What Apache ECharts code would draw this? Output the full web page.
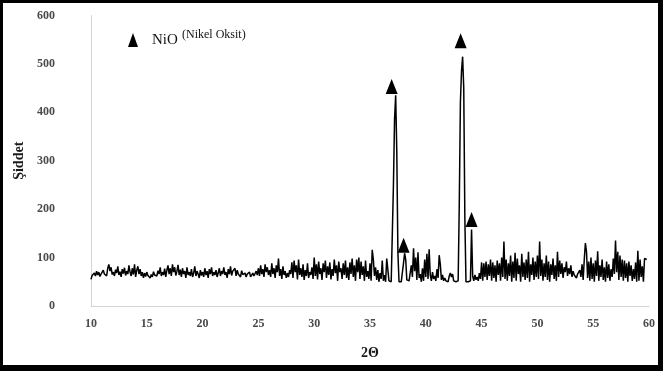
<!DOCTYPE html>
<html>
<head>
<meta charset="utf-8">
<script src="https://cdn.jsdelivr.net/npm/echarts@6/dist/echarts.min.js"></script>
<style>
  html, body { margin: 0; padding: 0; background: #000; }
  #frame { position: absolute; left: 0; top: 0; width: 663px; height: 371px; background: #000; }
  #chart { position: absolute; left: 3px; top: 3px; width: 655px; height: 362px; background: #fff; }
</style>
</head>
<body>
<div id="frame"><div id="chart"></div></div>
<script>
// XRD scan: 2-theta from 10.0 to 59.8 degrees in 0.1 degree steps
const SCAN_START = 10;
const SCAN_STEP = 0.1;

// Intensity (counts), 10.0 - 19.9
const int10to20 = [
  55, 63, 60, 68, 62, 72, 64, 70, 61, 66,
  63, 74, 66, 70, 62, 78, 86, 72, 80, 65,
  70, 62, 75, 68, 82, 64, 71, 60, 76, 67,
  79, 63, 72, 66, 84, 70, 62, 78, 65, 86,
  60, 74, 82, 66, 76, 62, 70, 58, 68, 61,
  70, 63, 67, 58, 65, 60, 71, 64, 68, 62,
  73, 66, 80, 62, 70, 64, 77, 60, 74, 84,
  66, 78, 62, 86, 70, 80, 63, 72, 85, 64,
  75, 60, 78, 66, 72, 58, 80, 64, 70, 62,
  76, 60, 68, 82, 62, 72, 66, 58, 74, 63
];

// Intensity, 20.0 - 29.9
const int20to30 = [
  70, 60, 78, 64, 72, 58, 76, 66, 80, 62,
  70, 64, 74, 60, 68, 78, 62, 72, 66, 80,
  64, 70, 58, 76, 66, 82, 63, 72, 68, 78,
  62, 74, 66, 70, 60, 73, 65, 62, 68, 60,
  66, 62, 70, 60, 64, 68, 62, 66, 72, 64,
  78, 62, 84, 66, 76, 60, 86, 70, 80, 64,
  74, 60, 88, 66, 78, 58, 84, 70, 98, 62,
  76, 56, 82, 64, 72, 58, 68, 60, 74, 66,
  90, 58, 94, 70, 84, 55, 96, 64, 78, 60,
  86, 54, 74, 62, 88, 58, 70, 64, 80, 56
];

// Intensity, 30.0 - 39.9 (NiO reflections near 37.3 and 38.1)
const int30to40 = [
  100, 62, 86, 55, 92, 66, 78, 54, 88, 70,
  94, 58, 82, 64, 90, 55, 76, 62, 96, 68,
  84, 52, 92, 70, 78, 56, 88, 64, 94, 58,
  80, 54, 90, 66, 98, 60, 84, 52, 96, 70,
  100, 56, 92, 64, 82, 52, 94, 60, 72, 56,
  88, 52, 116, 96, 62, 80, 54, 74, 50, 68,
  56, 94, 52, 64, 50, 98, 102, 52, 50, 50,
  52, 250, 385, 435, 320, 110, 50, 49, 50, 52,
  88, 109, 96, 54, 50, 52, 50, 84, 60, 119,
  72, 100, 54, 111, 58, 66, 50, 78, 52, 96
];

// Intensity, 40.0 - 49.9 (NiO reflections near 43.3 and 44.1)
const int40to50 = [
  60, 108, 56, 117, 64, 52, 70, 56, 62, 52,
  76, 58, 105, 86, 54, 64, 52, 58, 52, 56,
  50, 62, 68, 60, 66, 52, 50, 50, 50, 52,
  210, 420, 485, 515, 450, 180, 50, 49, 50, 50,
  52, 158, 62, 52, 64, 54, 60, 52, 68, 56,
  90, 52, 88, 60, 92, 54, 86, 62, 96, 52,
  90, 58, 84, 50, 94, 64, 88, 52, 100, 60,
  133, 56, 96, 52, 88, 62, 104, 50, 92, 58,
  110, 52, 98, 66, 84, 50, 108, 60, 90, 54,
  96, 58, 112, 50, 86, 64, 100, 54, 92, 60
];

// Intensity, 50.0 - 59.8
const int50to60 = [
  104, 56, 133, 62, 96, 52, 88, 60, 104, 54,
  92, 50, 86, 64, 98, 56, 84, 52, 112, 60,
  94, 66, 88, 58, 80, 70, 92, 62, 78, 66,
  84, 60, 72, 64, 68, 58, 66, 62, 74, 60,
  86, 54, 96, 130, 112, 58, 92, 52, 100, 56,
  88, 50, 94, 62, 113, 52, 84, 60, 96, 54,
  80, 50, 92, 58, 86, 52, 76, 60, 98, 66,
  135, 70, 112, 54, 104, 60, 96, 52, 94, 58,
  88, 50, 92, 62, 84, 52, 76, 56, 90, 50,
  114, 52, 96, 60, 82, 50, 98, 94, 96
];

// Peaks assigned to NiO: [2-theta, intensity]
const nioPeaks = [
  [37.3, 435],
  [38.1, 109],
  [43.3, 515],
  [44.1, 158]
];

// Axis ticks
const xTicks = { min: 10, max: 60, interval: 5 };
const yTicks = { min: 0, max: 600, interval: 100 };

const intensity = [].concat(int10to20, int20to30, int30to40, int40to50, int50to60);
const scan = intensity.map((v, i) => [+(SCAN_START + i * SCAN_STEP).toFixed(1), v]);

// Marker placement just above each peak apex
const markerOffsets = [[-4, -9], [-1, -8], [-2, -16], [0, -10]];

const serif = '"Liberation Serif", "Times New Roman", serif';
const chart = echarts.init(document.getElementById('chart'), null, { renderer: 'canvas' });

chart.setOption({
  animation: false,
  backgroundColor: '#fff',
  grid: { left: 88, right: 7, top: 12.5, bottom: 59 },
  xAxis: {
    type: 'value',
    min: xTicks.min, max: xTicks.max, interval: xTicks.interval,
    name: '2\u0398',
    nameLocation: 'middle',
    nameGap: 40,
    nameTextStyle: { fontFamily: serif, fontWeight: 'bold', fontSize: 14, color: '#1a1a1a' },
    axisLine: { lineStyle: { color: '#d4d4d4', width: 1 } },
    axisTick: { show: false },
    splitLine: { show: false },
    axisLabel: { fontFamily: serif, fontSize: 12, fontWeight: 'bold', color: '#4a4a4a', margin: 12 }
  },
  yAxis: {
    type: 'value',
    min: yTicks.min, max: yTicks.max, interval: yTicks.interval,
    name: '\u015Eiddet',
    nameLocation: 'middle',
    nameGap: 63,
    nameRotate: 90,
    nameTextStyle: { fontFamily: serif, fontWeight: 'bold', fontSize: 14, color: '#1a1a1a' },
    axisLine: { show: true, lineStyle: { color: '#d4d4d4', width: 1 } },
    axisTick: { show: false },
    splitLine: { show: false },
    axisLabel: { fontFamily: serif, fontSize: 12, fontWeight: 'bold', color: '#4a4a4a', margin: 36 }
  },
  series: [
    {
      type: 'line',
      name: 'scan',
      data: scan,
      showSymbol: false,
      symbol: 'none',
      lineStyle: { color: '#000', width: 1.5 },
      z: 2
    },
    {
      type: 'scatter',
      name: 'NiO',
      data: nioPeaks.map((p, i) => ({ value: p, symbolOffset: markerOffsets[i] })),
      symbol: 'triangle',
      symbolSize: [12, 15],
      itemStyle: { color: '#000', opacity: 1 },
      z: 3
    }
  ],
  graphic: [
    {
      type: 'polygon',
      shape: { points: [[130, 30], [125, 44], [135, 44]] },
      style: { fill: '#000' }
    },
    {
      type: 'text',
      left: 149, top: 30,
      style: { text: 'NiO', font: '15px ' + serif, fill: '#111' }
    },
    {
      type: 'text',
      left: 179, top: 26,
      style: { text: '(Nikel Oksit)', font: '12px ' + serif, fill: '#111' }
    }
  ]
});
</script>
</body>
</html>
